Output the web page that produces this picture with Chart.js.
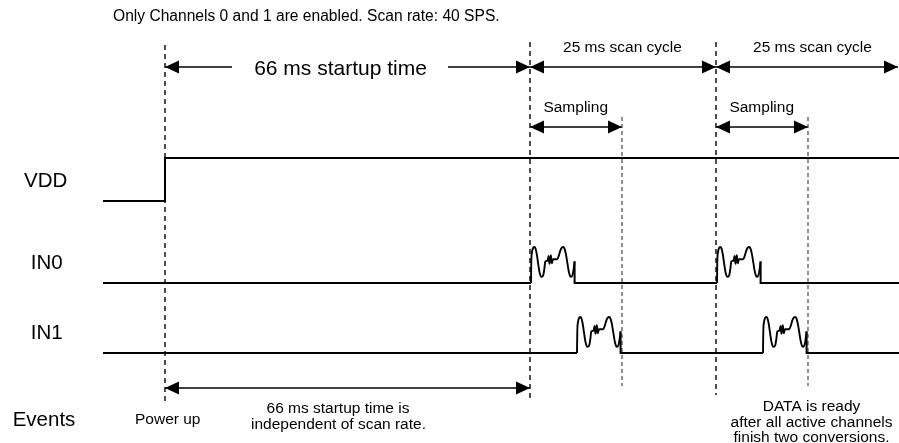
<!DOCTYPE html>
<html>
<head>
<meta charset="utf-8">
<script src="https://cdn.jsdelivr.net/npm/chart.js@4/dist/chart.umd.min.js"></script>
<style>
  html, body { margin: 0; padding: 0; background: #ffffff; }
  #c { display: block; }
</style>
</head>
<body>
<canvas id="c" width="899" height="443"></canvas>
<script>
// ---------------- data (schematic time along x, signal levels 0..1) ----------------
const titleText = 'Only Channels 0 and 1 are enabled. Scan rate: 40 SPS.';
const laneNames = ['VDD', 'IN0', 'IN1', 'Events'];
const traceStart = 103;
const traceEnd = 899;
const powerUpTime = 165;
const startupEndTime = 530;
const cycleStartTimes = [530, 716];
const cycleEndTimes = [716, 898];
const samplingEndTimes = [622, 808];
const vddTimes = [103, 165, 165, 899];
const vddLevels = [0, 0, 1, 1];
const in0PulseStarts = [531, 717];
const in1PulseStarts = [577, 763];
// shape of one sampled-input burst (offset from burst start, normalised level)
const pulseShapeDx =    [0, 0.3, 1, 2, 3.3, 4.6, 5.9, 7.1, 8.3, 9.6, 11, 12.3, 13.3, 14.3, 16.5, 17.6, 18.5, 19.8, 20.8, 22, 26.3, 27.8, 29.3, 30.8, 32.2, 33.6, 35, 36.4, 37.7, 39, 40.3, 41.5, 42.6, 43.6];
const pulseShapeLevel = [0, 0.6, 0.86, 0.97, 1.0, 0.95, 0.78, 0.55, 0.33, 0.2, 0.17, 0.22, 0.38, 0.6, 0.62, 0.75, 0.53, 0.77, 0.55, 0.66, 0.66, 0.76, 0.9, 0.98, 1.0, 0.95, 0.79, 0.55, 0.33, 0.2, 0.17, 0.22, 0.38, 0.6];
const startupLabel = '66 ms startup time';
const cycleLabel = '25 ms scan cycle';
const samplingLabel = 'Sampling';
const powerUpLabel = 'Power up';
const startupNote = ['66 ms startup time is', 'independent of scan rate.'];
const dataReadyNote = ['DATA is ready', 'after all active channels', 'finish two conversions.'];

// ---------------- layout (rows, sizes, styles) ----------------
const L = {
  vddBase: 201, vddAmp: 43,
  in0Base: 283, in1Base: 353, pulseAmp: 36,
  rowTop: 67, rowSampling: 127, rowEvents: 388,
  startupGap: [232, 448],
  font: '"Liberation Sans", Arial, Helvetica, sans-serif'
};

const pulseWidth = pulseShapeDx[pulseShapeDx.length - 1];
const pulseEndLevel = pulseShapeLevel[pulseShapeLevel.length - 1];

const datasets = [];
const solid = (data, extra) => Object.assign({
  data, borderColor: '#000', borderWidth: 2, pointRadius: 0, fill: false,
  tension: 0, spanGaps: false, clip: false
}, extra || {});

// VDD
datasets.push(solid(vddTimes.map((t, i) => ({ x: t, y: L.vddBase - L.vddAmp * vddLevels[i] }))));

// input lanes
function laneBaseline(starts, base) {
  const pts = [{ x: traceStart, y: base }];
  starts.forEach(s => {
    pts.push({ x: s, y: base });
    pts.push({ x: s, y: null });
    const e = s + pulseWidth;
    pts.push({ x: e, y: base - L.pulseAmp * pulseEndLevel });
    pts.push({ x: e, y: base });
  });
  pts.push({ x: traceEnd, y: base });
  return pts;
}
function pulse(s, base) {
  return pulseShapeDx.map((d, i) => ({ x: s + d, y: base - L.pulseAmp * pulseShapeLevel[i] }));
}
datasets.push(solid(laneBaseline(in0PulseStarts, L.in0Base)));
datasets.push(solid(laneBaseline(in1PulseStarts, L.in1Base)));
in0PulseStarts.forEach(s => datasets.push(solid(pulse(s, L.in0Base), { cubicInterpolationMode: 'monotone', borderWidth: 1.9 })));
in1PulseStarts.forEach(s => datasets.push(solid(pulse(s, L.in1Base), { cubicInterpolationMode: 'monotone', borderWidth: 1.9 })));

// dashed event markers
const marker = (t, top, bottom, dark) => solid([{ x: t, y: top }, { x: t, y: bottom }], dark
  ? { borderWidth: 1.6, borderDash: [5, 4], borderColor: '#222' }
  : { borderWidth: 1.3, borderDash: [4, 3], borderColor: '#555' });
datasets.push(marker(powerUpTime, 45, 401, true));
datasets.push(marker(cycleStartTimes[0], 42, 398, true));
datasets.push(marker(cycleStartTimes[1], 42, 395, true));
samplingEndTimes.forEach(t => datasets.push(marker(t, 117, 386, false)));

// arrows
const arrow = (t1, t2, row, heads) => solid([{ x: t1, y: row }, { x: t2, y: row }], { borderWidth: 1.3, heads });
datasets.push(arrow(powerUpTime, L.startupGap[0], L.rowTop, { start: true }));
datasets.push(arrow(L.startupGap[1], startupEndTime, L.rowTop, { end: true }));
cycleStartTimes.forEach((t, i) => datasets.push(arrow(t, cycleEndTimes[i], L.rowTop, { start: true, end: true })));
cycleStartTimes.forEach((t, i) => datasets.push(arrow(t, samplingEndTimes[i], L.rowSampling, { start: true, end: true })));
datasets.push(arrow(powerUpTime, startupEndTime, L.rowEvents, { start: true, end: true }));

// text annotations: [text, x(time), baseline y, size, align]
const texts = [
  [titleText, 113, 21, 15.6, 'left'],
  [startupLabel, 340.5, 74.5, 21, 'center'],
  [cycleLabel, 622.5, 52, 15.5, 'center'],
  [cycleLabel, 812.5, 52, 15.5, 'center'],
  [samplingLabel, 575.7, 112, 15.5, 'center'],
  [samplingLabel, 761.7, 112, 15.5, 'center'],
  [laneNames[0], 24, 187, 20.5, 'left'],
  [laneNames[1], 30.7, 269, 20.5, 'left'],
  [laneNames[2], 30.7, 339, 20.5, 'left'],
  [laneNames[3], 12.7, 426, 20.5, 'left'],
  [powerUpLabel, 135, 424, 15.5, 'left'],
  [startupNote[0], 338, 413, 15.5, 'center'],
  [startupNote[1], 338.5, 429, 15.5, 'center'],
  [dataReadyNote[0], 811.5, 411, 15.5, 'center'],
  [dataReadyNote[1], 811.5, 426.5, 15.5, 'center'],
  [dataReadyNote[2], 811.5, 442, 15.5, 'center']
];

function drawHead(ctx, tip, from) {
  const a = Math.atan2(tip.y - from.y, tip.x - from.x);
  const len = 14, w = 6.5;
  const bx = tip.x - len * Math.cos(a), by = tip.y - len * Math.sin(a);
  ctx.beginPath();
  ctx.moveTo(tip.x, tip.y);
  ctx.lineTo(bx + w * Math.sin(a), by - w * Math.cos(a));
  ctx.lineTo(bx - w * Math.sin(a), by + w * Math.cos(a));
  ctx.closePath();
  ctx.fill();
}

const overlay = {
  id: 'overlay',
  afterDatasetsDraw(chart) {
    const ctx = chart.ctx;
    const xs = chart.scales.x, ys = chart.scales.y;
    ctx.save();
    ctx.fillStyle = '#000';
    chart.data.datasets.forEach((ds, i) => {
      if (!ds.heads) return;
      const pts = chart.getDatasetMeta(i).data;
      if (ds.heads.start) drawHead(ctx, pts[0], pts[1]);
      if (ds.heads.end) drawHead(ctx, pts[pts.length - 1], pts[pts.length - 2]);
    });
    ctx.textBaseline = 'alphabetic';
    texts.forEach(([t, x, y, size, align]) => {
      ctx.font = size + 'px ' + L.font;
      ctx.textAlign = align;
      ctx.fillText(t, xs.getPixelForValue(x), ys.getPixelForValue(y));
    });
    ctx.restore();
  }
};

new Chart(document.getElementById('c'), {
  type: 'line',
  data: { datasets },
  options: {
    responsive: false,
    devicePixelRatio: 1,
    animation: false,
    events: [],
    layout: { padding: 0, autoPadding: false },
    plugins: { legend: { display: false }, title: { display: false }, tooltip: { enabled: false } },
    scales: {
      x: { type: 'linear', min: 0, max: 899, display: false },
      y: { type: 'linear', min: 0, max: 443, reverse: true, display: false }
    }
  },
  plugins: [overlay]
});
</script>
</body>
</html>
